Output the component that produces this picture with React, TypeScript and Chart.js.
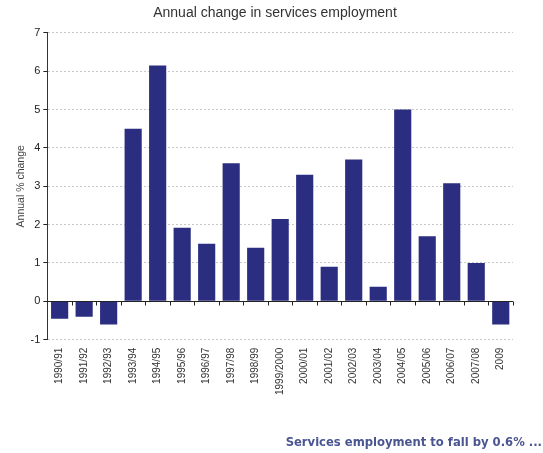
import React, { useEffect, useRef } from "react";
import { Chart, registerables } from "chart.js";

Chart.register(...registerables);

const categories = [
  "1990/91", "1991/92", "1992/93", "1993/94", "1994/95", "1995/96", "1996/97",
  "1997/98", "1998/99", "1999/2000", "2000/01", "2001/02", "2002/03", "2003/04",
  "2004/05", "2005/06", "2006/07", "2007/08", "2009",
];
const changeValues = [
  -0.45, -0.4, -0.6, 4.5, 6.15, 1.92, 1.5, 3.6, 1.4, 2.15, 3.3, 0.9, 3.7, 0.38,
  5.0, 1.7, 3.08, 1.0, -0.6,
];
const yTicks = [-1, 0, 1, 2, 3, 4, 5, 6, 7];
const titleText = "Annual change in services employment";
const yAxisTitle = "Annual % change";
const footerText = "Services employment to fall by 0.6% ...";

const zeroLinePlugin = {
  id: "zeroLine",
  afterDatasetsDraw(chart: any) {
    const { ctx, chartArea, scales } = chart;
    const x = scales.x;
    const y = scales.y;
    const y0 = Math.round(y.getPixelForValue(0)) + 0.5;
    const n = categories.length;
    const step = (chartArea.right - chartArea.left) / n;
    ctx.save();
    ctx.strokeStyle = "#222";
    ctx.lineWidth = 1;
    ctx.beginPath();
    ctx.moveTo(chartArea.left, y0);
    ctx.lineTo(chartArea.right, y0);
    for (let i = 0; i < n; i++) {
      const xb = Math.round(x.getPixelForValue(i) + step / 2) + 0.5;
      ctx.moveTo(xb, y0);
      ctx.lineTo(xb, y0 + 4);
    }
    ctx.stroke();
    ctx.restore();
  },
};

export default function App() {
  const canvasRef = useRef<HTMLCanvasElement | null>(null);

  useEffect(() => {
    if (!canvasRef.current) return;
    const chart = new Chart(canvasRef.current, {
      type: "bar",
      data: {
        labels: categories,
        datasets: [
          {
            data: changeValues,
            backgroundColor: "#2b2e80",
            borderWidth: 0,
            barPercentage: 0.7,
            categoryPercentage: 1.0,
          },
        ],
      },
      options: {
        animation: false,
        responsive: false,
        maintainAspectRatio: false,
        layout: { padding: { left: 7, right: 0, top: 3, bottom: 58 } },
        plugins: {
          legend: { display: false },
          tooltip: { enabled: false },
          title: {
            display: true,
            text: titleText,
            color: "#333",
            font: { family: "Liberation Sans, Arial, sans-serif", size: 14, weight: "normal" },
            padding: { top: 2, bottom: 11 },
          },
        },
        scales: {
          x: {
            grid: { display: false },
            border: { display: false },
            ticks: {
              minRotation: 90,
              maxRotation: 90,
              autoSkip: false,
              color: "#333",
              padding: 0,
              font: { family: "Liberation Sans, Arial, sans-serif", size: 10 },
            },
          },
          y: {
            min: -1,
            max: 7,
            afterBuildTicks(scale: any) {
              scale.ticks = yTicks.map((v) => ({ value: v }));
            },
            grid: {
              color: (ctx: any) => (ctx.tick && ctx.tick.value === 0 ? "rgba(0,0,0,0)" : "#c8c8c8"),
              lineWidth: 1,
              drawTicks: true,
              tickLength: 4,
              tickColor: "#222",
              tickBorderDash: [],
            },
            border: { display: true, color: "#333", width: 1, dash: [2, 2] },
            title: {
              display: true,
              text: yAxisTitle,
              color: "#444",
              padding: { top: 8, bottom: 0 },
              font: { family: "Liberation Sans, Arial, sans-serif", size: 10.5 },
            },
            ticks: {
              color: "#222",
              padding: 3,
              font: { family: "Liberation Sans, Arial, sans-serif", size: 11 },
            },
          },
          y2: {
            position: "right",
            display: true,
            grid: { display: false },
            border: { display: false },
            ticks: { display: false },
            afterFit(scale: any) {
              scale.width = 30;
            },
          },
        },
      },
      plugins: [zeroLinePlugin],
    });
    return () => chart.destroy();
  }, []);

  return (
    <div style={{ position: "absolute", left: 0, top: 0, width: 543, height: 453, background: "#fff" }}>
      <canvas ref={canvasRef} width={543} height={453} style={{ display: "block" }} />
      <div
        style={{
          position: "absolute",
          right: 1,
          top: 435,
          fontFamily: "DejaVu Sans, Verdana, sans-serif",
          fontWeight: "bold",
          fontSize: 11.6,
          color: "#4a5592",
          whiteSpace: "nowrap",
        }}
      >
        {footerText}
      </div>
    </div>
  );
}
